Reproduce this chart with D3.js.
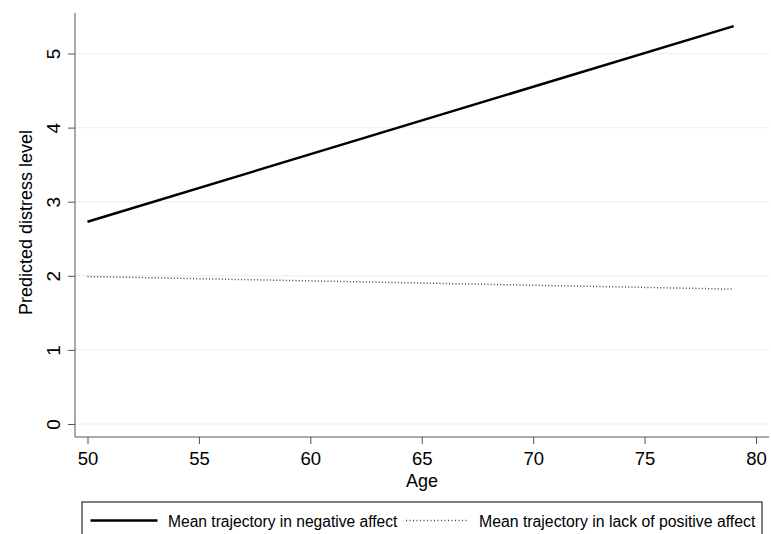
<!DOCTYPE html>
<html>
<head>
<meta charset="utf-8">
<script src="https://cdn.jsdelivr.net/npm/d3@7"></script>
<style>
  body { margin: 0; background: #fff; }
  text { font-family: "Liberation Sans", Arial, sans-serif; fill: #000; }
</style>
</head>
<body>
<div id="chart"></div>
<script>
// Values
const ages = [50, 79];
const negativeAffect = [2.73, 5.37];
const lackPositive = [1.99, 1.82];
const xTicks = [50, 55, 60, 65, 70, 75, 80];
const yTicks = [0, 1, 2, 3, 4, 5];
const seriesNames = ["Mean trajectory in negative affect", "Mean trajectory in lack of positive affect"];

const width = 771, height = 534;
const plotLeft = 75, plotRight = 769, plotTop = 13, plotBottom = 437;

const svg = d3.select("#chart").append("svg")
    .attr("width", width)
    .attr("height", height);

const x = d3.scaleLinear().domain([50, 80]).range([87.5, 756]);
const y = d3.scaleLinear().domain([0, 5]).range([424, 53.5]);

// gridlines
svg.selectAll(".grid")
    .data(yTicks)
    .enter().append("line")
    .attr("x1", plotLeft).attr("x2", plotRight)
    .attr("y1", d => y(d)).attr("y2", d => y(d))
    .attr("stroke", "#eaf2f3")
    .attr("stroke-width", 1.2);

// y axis
const yAxis = svg.append("g")
    .attr("transform", `translate(${plotLeft},0)`)
    .call(d3.axisLeft(y).tickValues(yTicks).tickFormat(d3.format("d")).tickSize(7));
yAxis.select(".domain").attr("d", `M0,${plotTop}V${plotBottom}`).attr("stroke", "#555");
yAxis.selectAll(".tick line").attr("stroke", "#555");
yAxis.selectAll(".tick text")
    .attr("font-size", 19)
    .attr("font-family", "Liberation Sans, Arial, sans-serif")
    .attr("text-anchor", "middle")
    .attr("x", 0).attr("dy", 0)
    .attr("transform", "translate(-15,0) rotate(-90)");

// x axis
const xAxis = svg.append("g")
    .attr("transform", `translate(0,${plotBottom})`)
    .call(d3.axisBottom(x).tickValues(xTicks).tickSize(7).tickPadding(8));
xAxis.select(".domain").attr("d", `M${plotLeft},0H${plotRight}`).attr("stroke", "#555");
xAxis.selectAll(".tick line").attr("stroke", "#555");
xAxis.selectAll(".tick text")
    .attr("font-size", 18.5)
    .attr("font-family", "Liberation Sans, Arial, sans-serif");

// axis titles
svg.append("text")
    .attr("x", 422).attr("y", 487)
    .attr("text-anchor", "middle")
    .attr("font-size", 18)
    .text("Age");

svg.append("text")
    .attr("transform", "translate(32,222.5) rotate(-90)")
    .attr("text-anchor", "middle")
    .attr("font-size", 18)
    .text("Predicted distress level");

// lines
const line = d3.line().x(d => x(d[0])).y(d => y(d[1]));

svg.append("path")
    .datum(ages.map((a, i) => [a, negativeAffect[i]]))
    .attr("d", line)
    .attr("fill", "none")
    .attr("stroke", "#000")
    .attr("stroke-width", 2.5);

svg.append("path")
    .datum(ages.map((a, i) => [a, lackPositive[i]]))
    .attr("d", line)
    .attr("fill", "none")
    .attr("stroke", "#444")
    .attr("stroke-width", 1.5)
    .attr("stroke-dasharray", "1,2.2");

// legend
const legend = svg.append("g");
legend.append("rect")
    .attr("x", 82).attr("y", 502)
    .attr("width", 680).attr("height", 40)
    .attr("fill", "#fff")
    .attr("stroke", "#000")
    .attr("stroke-width", 1);

legend.append("line")
    .attr("x1", 90.5).attr("x2", 157.5)
    .attr("y1", 520.5).attr("y2", 520.5)
    .attr("stroke", "#000").attr("stroke-width", 2.5);
legend.append("text")
    .attr("x", 168).attr("y", 526.5)
    .attr("font-size", 15.6)
    .text(seriesNames[0]);

legend.append("line")
    .attr("x1", 406).attr("x2", 467)
    .attr("y1", 520.5).attr("y2", 520.5)
    .attr("stroke", "#444").attr("stroke-width", 1.5)
    .attr("stroke-dasharray", "1,2.5");
legend.append("text")
    .attr("x", 479).attr("y", 526.5)
    .attr("font-size", 15.8)
    .text(seriesNames[1]);
</script>
</body>
</html>
